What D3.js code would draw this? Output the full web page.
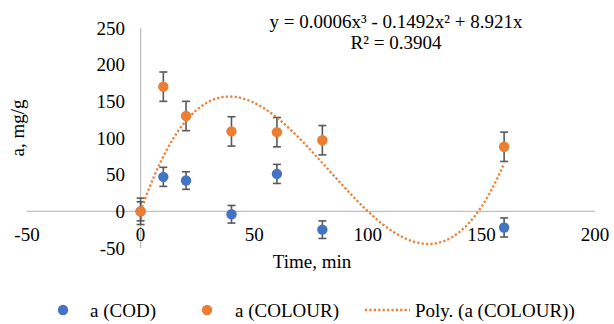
<!DOCTYPE html>
<html>
<head>
<meta charset="utf-8">
<script src="https://cdn.jsdelivr.net/npm/d3@7"></script>
<style>
  html, body { margin: 0; padding: 0; background: #fff; }
  svg { display: block; }
  svg text { font-family: "Liberation Serif", serif !important; }
</style>
</head>
<body>
<svg id="chart" width="614" height="324"></svg>
<script>
// ---- data ----
const time = [0, 10, 20, 40, 60, 80, 160];
const codValues = [0, 47, 42, -4, 51, -25, -22];
const codErrors = [13, 13, 12, 12, 13, 12, 13];
const colourValues = [0, 170, 130, 109, 108, 97, 88];
const colourErrors = [18, 20, 20, 20, 20, 20, 20];
const xTicks = [-50, 0, 50, 100, 150, 200];
const yTicks = [-50, 0, 50, 100, 150, 200, 250];
// trendline: y = c1*x + c2*x^2 + c3*x^3 (as shown on chart)
const polyCoefs = [0, 8.921, -0.1492, 0.0006];
const polyRange = [0, 160];
const equationText = "y = 0.0006x\u00B3 - 0.1492x\u00B2 + 8.921x";
const r2Text = "R\u00B2 = 0.3904";
const legendLabels = ["a (COD)", "a (COLOUR)", "Poly. (a (COLOUR))"];

const blue = "#4472C4", orange = "#ED7D31", errColor = "#595959", axisColor = "#BFBFBF";

const svg = d3.select("#chart");
const x = d3.scaleLinear().domain([-50, 200]).range([27, 595]);
const y = d3.scaleLinear().domain([-50, 250]).range([248, 28]);

function txt(sel) {
  return sel.attr("font-family", "Liberation Serif")
    .style("font-family", "Liberation Serif", "important")
    .attr("font-size", 19).attr("fill", "#000");
}

// axes lines
svg.append("line").attr("x1", x(-50)).attr("x2", x(200)).attr("y1", y(0)).attr("y2", y(0))
  .attr("stroke", axisColor).attr("stroke-width", 1.3);
svg.append("line").attr("x1", x(0)).attr("x2", x(0)).attr("y1", y(250)).attr("y2", y(-50))
  .attr("stroke", axisColor).attr("stroke-width", 1.3);

// tick labels
txt(svg.append("g").selectAll("text").data(yTicks).join("text"))
  .attr("x", 125).attr("y", d => y(d)).attr("dy", "0.35em")
  .attr("text-anchor", "end").text(d => d);
txt(svg.append("g").selectAll("text").data(xTicks).join("text"))
  .attr("x", d => x(d)).attr("y", y(0) + 23).attr("dy", "0.35em")
  .attr("text-anchor", "middle").text(d => d);

// axis titles
txt(svg.append("text")).attr("transform", "translate(24,128) rotate(-90)")
  .attr("text-anchor", "middle").text("a, mg/g");
txt(svg.append("text")).attr("x", 312).attr("y", 268)
  .attr("text-anchor", "middle").text("Time, min");

// series drawing
function drawSeries(vals, errs, color) {
  const g = svg.append("g");
  const data = time.map((t, i) => ({t, v: vals[i], e: errs[i]}));
  const eb = g.append("g").attr("stroke", errColor).attr("stroke-width", 1.6);
  data.forEach(d => {
    eb.append("line").attr("x1", x(d.t)).attr("x2", x(d.t)).attr("y1", y(d.v - d.e)).attr("y2", y(d.v + d.e));
    eb.append("line").attr("x1", x(d.t) - 4).attr("x2", x(d.t) + 4).attr("y1", y(d.v + d.e)).attr("y2", y(d.v + d.e));
    eb.append("line").attr("x1", x(d.t) - 4).attr("x2", x(d.t) + 4).attr("y1", y(d.v - d.e)).attr("y2", y(d.v - d.e));
  });
  g.selectAll("circle").data(data).join("circle")
    .attr("cx", d => x(d.t)).attr("cy", d => y(d.v)).attr("r", 5.2).attr("fill", color);
}
drawSeries(codValues, codErrors, blue);
drawSeries(colourValues, colourErrors, orange);

// trendline
const poly = t => polyCoefs.reduce((s, c, k) => s + c * Math.pow(t, k), 0);
const trendPts = d3.range(polyRange[0], polyRange[1] + 0.5, 0.5).map(t => [t, poly(t)]);
svg.append("path").datum(trendPts)
  .attr("d", d3.line().x(d => x(d[0])).y(d => y(d[1])))
  .attr("fill", "none").attr("stroke", orange).attr("stroke-width", 2.3)
  .attr("stroke-dasharray", "2.2 2.2");

// equation label
txt(svg.append("text")).attr("x", 396).attr("y", 28).attr("text-anchor", "middle").text(equationText);
txt(svg.append("text")).attr("x", 396).attr("y", 49).attr("text-anchor", "middle").text(r2Text);

// legend
const ly = 310;
svg.append("circle").attr("cx", 63).attr("cy", ly).attr("r", 5.2).attr("fill", blue);
txt(svg.append("text")).attr("x", 90).attr("y", ly).attr("dy", "0.35em").text(legendLabels[0]);
svg.append("circle").attr("cx", 207).attr("cy", ly).attr("r", 5.2).attr("fill", orange);
txt(svg.append("text")).attr("x", 235).attr("y", ly).attr("dy", "0.35em").text(legendLabels[1]);
svg.append("line").attr("x1", 365).attr("x2", 410).attr("y1", ly).attr("y2", ly)
  .attr("stroke", orange).attr("stroke-width", 2.3).attr("stroke-dasharray", "2.2 2.2");
txt(svg.append("text")).attr("x", 415).attr("y", ly).attr("dy", "0.35em").text(legendLabels[2]);
</script>
</body>
</html>
